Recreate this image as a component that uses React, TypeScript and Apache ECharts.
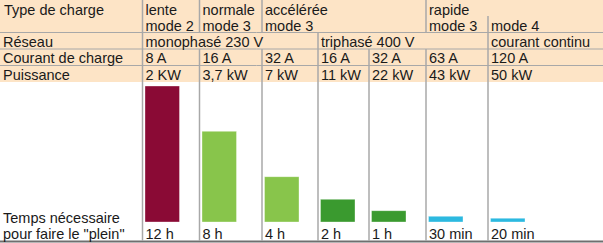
import React, { useEffect, useRef } from "react";
import * as echarts from "echarts";

// ---- data ----
const chargeTypes = ["lente", "normale", "accélérée", "rapide"];
const modes = ["mode 2", "mode 3", "mode 3", "mode 3", "mode 4"];
const networks = ["monophasé 230 V", "triphasé 400 V", "courant continu"];
const currents = ["8 A", "16 A", "32 A", "16 A", "32 A", "63 A", "120 A"];
const powers = ["2 KW", "3,7 kW", "7 kW", "11 kW", "22 kW", "43 kW", "50 kW"];
const chargeMinutes = [720, 480, 240, 120, 60, 30, 20];
const timeLabels = ["12 h", "8 h", "4 h", "2 h", "1 h", "30 min", "20 min"];
const rowLabels = ["Type de charge", "Réseau", "Courant de charge", "Puissance"];
const timeRowLabel = ["Temps nécessaire", 'pour faire le "plein"'];

// ---- layout / style ----
const W = 603;
const H = 243;
const colEdges = [142.5, 199.5, 262, 318, 369, 426, 488, 603];
const barColors = ["#8a0a35", "#88c54b", "#88c54b", "#3a9a2f", "#3a9a2f", "#2cb9e0", "#2cb9e0"];
const FONT = "'Liberation Sans', Arial, sans-serif";
const FS = 14.5;
const TXT = "#1a1a1a";
const GRID_LINE = "#a8a8a8";

// y given as baseline; converted to a middle-aligned position
function txt(text: string, x: number, baseline: number) {
  return {
    type: "text",
    x,
    y: baseline - 4.5,
    silent: true,
    style: {
      text,
      fill: TXT,
      font: `${FS}px ${FONT}`,
      lineHeight: 12.5,
      align: "left",
      verticalAlign: "middle",
    },
  };
}

function vline(x: number, y1: number, y2: number, color = GRID_LINE, w = 1.5) {
  return {
    type: "line",
    silent: true,
    shape: { x1: x, y1, x2: x, y2 },
    style: { stroke: color, lineWidth: w },
  };
}

function hline(y: number, x1: number, x2: number, color = GRID_LINE, w = 1) {
  return {
    type: "line",
    silent: true,
    shape: { x1, y1: y, x2, y2: y },
    style: { stroke: color, lineWidth: w },
  };
}

export default function App() {
  const ref = useRef<HTMLDivElement>(null);

  useEffect(() => {
    if (!ref.current) return;
    const chart = echarts.init(ref.current, null, { renderer: "svg" });

    const graphics: any[] = [];
    graphics.push({
      type: "rect",
      silent: true,
      shape: { x: 0, y: 0, width: W, height: 82 },
      style: { fill: "#fde4c6" },
    });
    graphics.push(hline(32.5, 0, W));
    graphics.push(hline(49, 0, W));
    graphics.push(hline(65.5, 0, W));
    graphics.push(hline(241.5, 0, W, "#6f6f6f", 2));

    graphics.push(vline(colEdges[0], 0, 241));
    graphics.push(vline(colEdges[1], 0, 32.5));
    graphics.push(vline(colEdges[1], 49, 241));
    graphics.push(vline(colEdges[2], 0, 32.5));
    graphics.push(vline(colEdges[2], 49, 241));
    graphics.push(vline(colEdges[3], 32.5, 241));
    graphics.push(vline(colEdges[4], 49, 241));
    graphics.push(vline(colEdges[5], 0, 32.5));
    graphics.push(vline(colEdges[5], 49, 241));
    graphics.push(vline(colEdges[6], 16, 241));

    graphics.push(txt(rowLabels[0], 4, 14));
    graphics.push(txt(rowLabels[1], 3, 46));
    graphics.push(txt(rowLabels[2], 3, 62.5));
    graphics.push(txt(rowLabels[3], 3, 79));
    graphics.push(txt(timeRowLabel[0], 3, 222));
    graphics.push(txt(timeRowLabel[1], 3, 238));

    const typeCols = [0, 1, 2, 5];
    chargeTypes.forEach((t, i) => graphics.push(txt(t, colEdges[typeCols[i]] + 3, 14)));
    const modeCols = [0, 1, 2, 5, 6];
    modes.forEach((m, i) => graphics.push(txt(m, colEdges[modeCols[i]] + 3, 30)));
    const netCols = [0, 3, 6];
    networks.forEach((n, i) => graphics.push(txt(n, colEdges[netCols[i]] + 3, 46)));
    currents.forEach((c, i) => graphics.push(txt(c, colEdges[i] + 3, 62.5)));
    powers.forEach((p, i) => graphics.push(txt(p, colEdges[i] + 3, 79)));
    timeLabels.forEach((t, i) => graphics.push(txt(t, colEdges[i] + 3, 238)));

    const option: any = {
      animation: false,
      backgroundColor: "#ffffff",
      grid: { left: 0, right: 0, top: 86, bottom: H - 222, containLabel: false },
      xAxis: { type: "value", min: 0, max: W, show: false },
      yAxis: { type: "value", min: 0, max: 720, show: false },
      graphic: { elements: graphics },
      series: [
        {
          type: "custom",
          silent: true,
          data: chargeMinutes.map((m, i) => [i, m]),
          renderItem: (params: any, api: any) => {
            const i = api.value(0);
            const left = colEdges[i] + 2.5;
            const top = api.coord([left, api.value(1)]);
            const base = api.coord([left, 0]);
            const width = api.size([34.5, 0])[0];
            return {
              type: "rect",
              shape: { x: top[0], y: top[1], width, height: base[1] - top[1] },
              style: {
                fill: barColors[i],
                stroke: "rgba(255,255,255,0.35)",
                lineWidth: 1,
              },
            };
          },
          z: 3,
        },
      ],
    };
    chart.setOption(option);
    return () => chart.dispose();
  }, []);

  return (
    <div
      ref={ref}
      style={{ position: "fixed", left: 0, top: 0, width: W, height: H }}
    />
  );
}
